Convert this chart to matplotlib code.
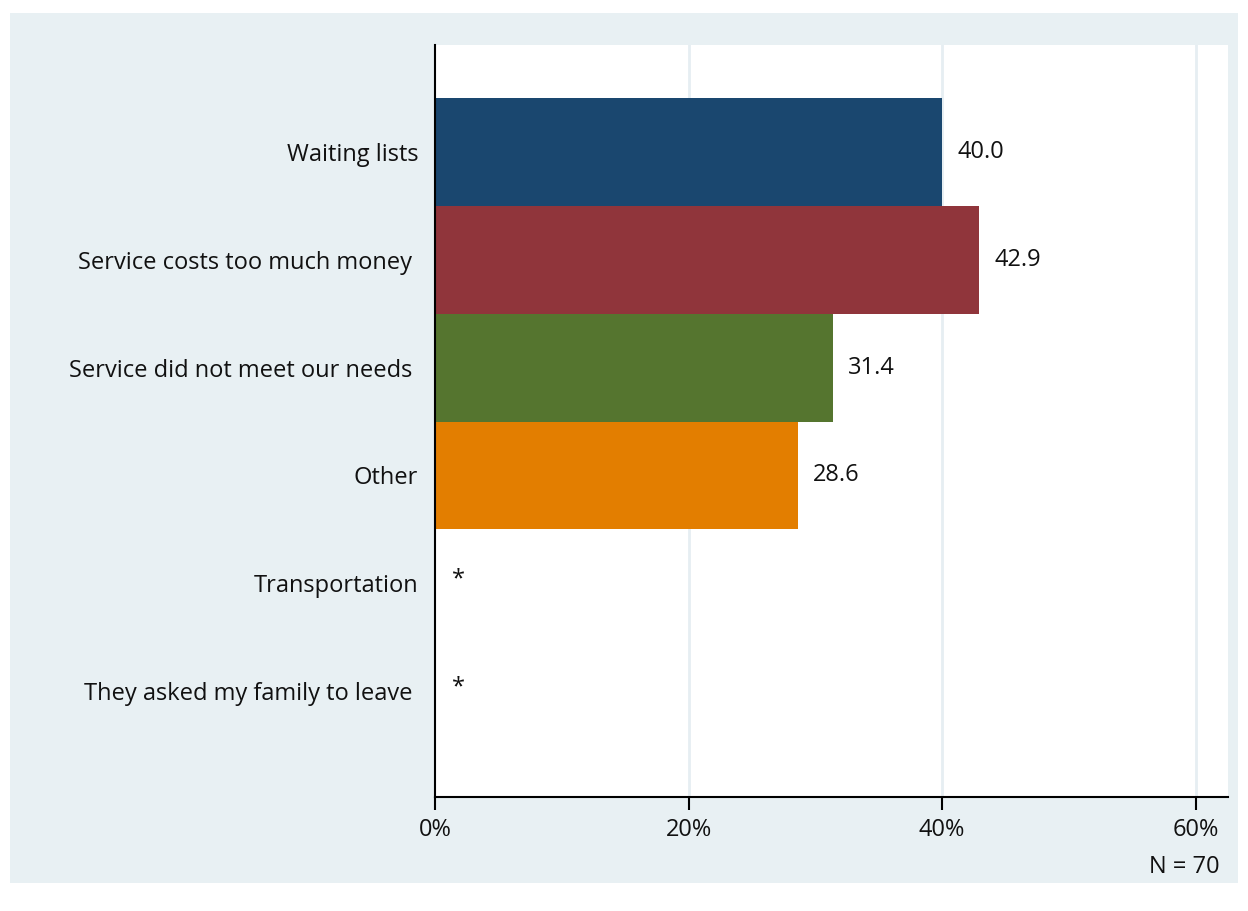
import matplotlib.pyplot as plt
from matplotlib.patches import Rectangle

categories = ['Waiting lists', 'Service costs too much money ', 'Service did not meet our needs ',
              'Other', 'Transportation', 'They asked my family to leave ']
values = [40.0, 42.9, 31.4, 28.6, None, None]  # None = suppressed (*)
colors = ['#1a476f', '#90353b', '#55752f', '#e37e00', '#e37e00', '#e37e00']
xticks = [0, 20, 40, 60]
n_label = 'N = 70'

plt.rcParams['font.family'] = ['Open Sans', 'DejaVu Sans']
fs = 17

fig = plt.figure(figsize=(12.48, 9.11), dpi=100)
fig.patch.set_facecolor('white')
fig.patches.append(Rectangle((10 / 1248, 28 / 911), 1228 / 1248, 870 / 911,
                             transform=fig.transFigure, facecolor='#e8f0f3',
                             edgecolor='none', zorder=-10))

ax = fig.add_axes([435 / 1248, 114 / 911, 793 / 1248, 752 / 911])
ax.set_facecolor('white')

for i, (v, c) in enumerate(zip(values, colors)):
    if v is None:
        ax.text(1.3, i - 0.04, '*', ha='left', va='center', fontsize=fs, color='#111111')
    else:
        ax.barh(i, v, height=1.0, color=c, zorder=3)
        ax.text(v + 1.2, i, f'{v:.1f}', ha='left', va='center', fontsize=fs, color='#111111')

ax.set_ylim(5.98, -0.99)
ax.set_xlim(0, 62.56)
ax.set_yticks(range(len(categories)))
ax.set_yticklabels(categories, fontsize=fs, color='#111111')
ax.tick_params(axis='y', length=0, pad=12)
ax.set_xticks(xticks)
ax.set_xticklabels([f'{t}%' for t in xticks], fontsize=fs, color='#111111')
ax.tick_params(axis='x', length=9, width=1.5, pad=6)

for t in xticks[1:]:
    ax.axvline(t, color='#e6eef2', lw=2, zorder=1)

for s in ['top', 'right']:
    ax.spines[s].set_visible(False)
for s in ['left', 'bottom']:
    ax.spines[s].set_linewidth(1.5)
    ax.spines[s].set_zorder(4)

fig.text(1220 / 1248, (911 - 867) / 911, n_label, ha='right', va='center', fontsize=fs, color='#111111')

fig.savefig('out.png', dpi=100, facecolor='white')
